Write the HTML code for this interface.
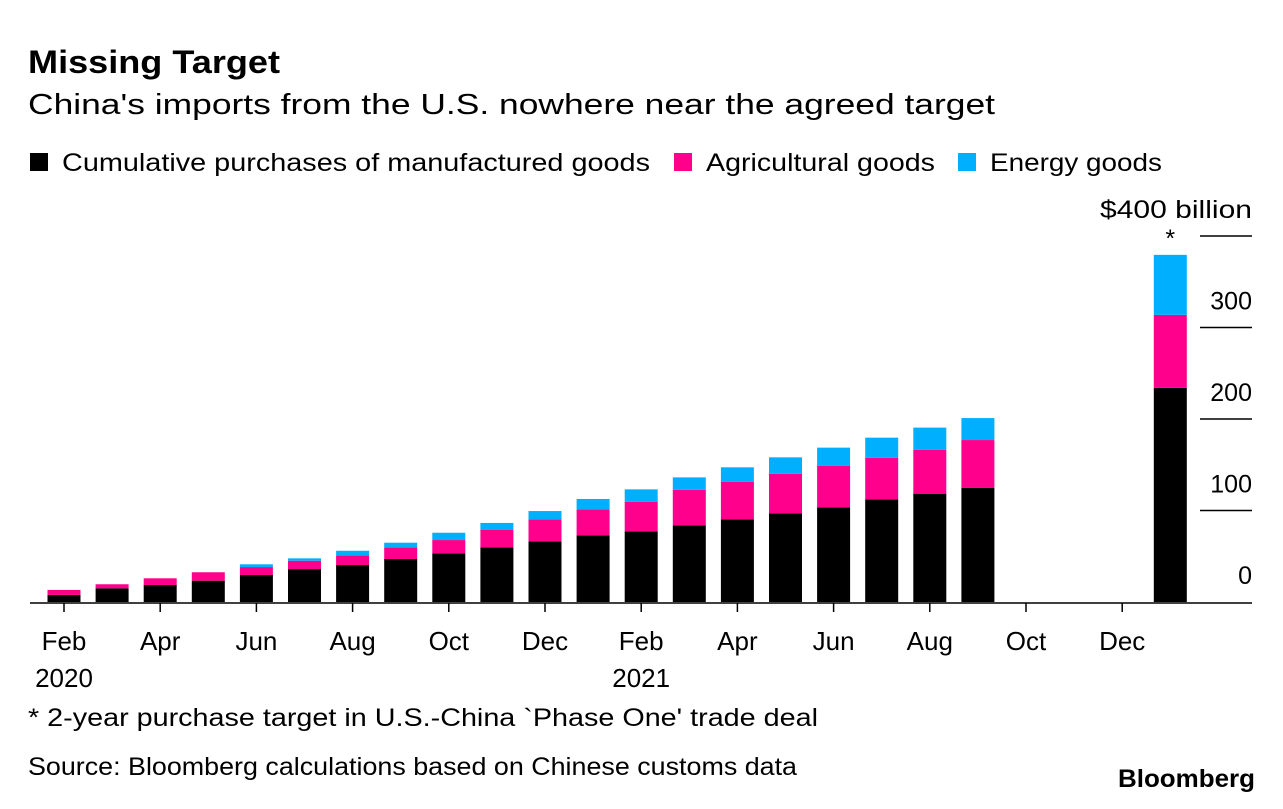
<!DOCTYPE html>
<html><head><meta charset="utf-8">
<style>
body{margin:0;background:#fff;font-family:"Liberation Sans",Arial,sans-serif;}
svg text{font-family:"Liberation Sans",Arial,sans-serif;}
</style></head>
<body>
<svg width="1283" height="804" viewBox="0 0 1283 804" xmlns="http://www.w3.org/2000/svg" id="chart">
<text x="28" y="73" font-size="32" font-weight="bold" fill="#000" textLength="252" lengthAdjust="spacingAndGlyphs">Missing Target</text>
<text x="28" y="114" font-size="29" fill="#000" textLength="967" lengthAdjust="spacingAndGlyphs">China's imports from the U.S. nowhere near the agreed target</text>
<g>
<rect x="30" y="153" width="18" height="18" fill="#000"/>
<text x="62" y="171" font-size="25" textLength="588" lengthAdjust="spacingAndGlyphs">Cumulative purchases of manufactured goods</text>
<rect x="674" y="153" width="18" height="18" fill="#ff008c"/>
<text x="706" y="171" font-size="25" textLength="229" lengthAdjust="spacingAndGlyphs">Agricultural goods</text>
<rect x="958" y="153" width="18" height="18" fill="#00b0ff"/>
<text x="990" y="171" font-size="25" textLength="172" lengthAdjust="spacingAndGlyphs">Energy goods</text>
</g>
<g id="plot"></g>
<text x="28" y="726" font-size="25" textLength="790" lengthAdjust="spacingAndGlyphs">* 2-year purchase target in U.S.-China `Phase One' trade deal</text>
<text x="28" y="775" font-size="25" textLength="769" lengthAdjust="spacingAndGlyphs">Source: Bloomberg calculations based on Chinese customs data</text>
<text x="1255" y="787" font-size="25" font-weight="bold" text-anchor="end" textLength="137" lengthAdjust="spacingAndGlyphs">Bloomberg</text>
</svg>
<script>
const months = ["Feb","Mar","Apr","May","Jun","Jul","Aug","Sep","Oct","Nov","Dec","Jan","Feb","Mar","Apr","May","Jun","Jul","Aug","Sep","Oct","Nov","Dec","Target"];
const manufactured = [7.7,15,18.6,23.3,29.5,36,40.4,47,53.2,59.8,66.3,72.9,77.3,83.8,90.4,96.9,103.5,112.2,118.4,124.9,null,null,null,234];
const agricultural = [5.5,4.4,7.3,9.2,8.7,9.1,10.6,12.8,14.5,18.9,24,28.4,32.3,38.9,41.1,43.3,45.5,45.5,47.8,52.1,null,null,null,79.8];
const energy = [0,0,0,0,3,2.6,5,5,8,7.7,9.1,11.3,13.5,13.5,15.7,17.9,19.7,21.9,24.4,24,null,null,null,65.6];
const yTicks = [0,100,200,300,400];
const xTickLabels = ["Feb","Apr","Jun","Aug","Oct","Dec","Feb","Apr","Jun","Aug","Oct","Dec"];
const yearLabels = [["2020",0],["2021",12]];

const NS="http://www.w3.org/2000/svg";
const g=document.getElementById("plot");
const y0=602, pxPer=0.915;
const y=v=>y0-v*pxPer;
const x=i=>64+i*48.1;
const bw=33;
function mk(tag,attrs){const e=document.createElementNS(NS,tag);for(const k in attrs)e.setAttribute(k,attrs[k]);g.appendChild(e);return e;}
yTicks.forEach((t,i)=>{
  if(t>0){const l=mk("line",{x1:1200,x2:1252,y1:y(t),y2:y(t),stroke:"#000","stroke-width":1.5});
  
  }
  const tx=mk("text",{x:1252,y:y(t)-18,"font-size":25,"text-anchor":"end"});
  tx.textContent=(t===400?"$400 billion":String(t));
  if(t===400){tx.setAttribute("textLength","152");tx.setAttribute("lengthAdjust","spacingAndGlyphs");}
  
  
});
const series=[[manufactured,"#000","manufactured"],[agricultural,"#ff008c","agricultural"],[energy,"#00b0ff","energy"]];
months.forEach((m,i)=>{
  let base=0;
  series.forEach(([arr,col,nm])=>{
    const v=arr[i]; if(v==null||v<=0) return;
    const r=mk("rect",{x:x(i)-bw/2,y:y(base+v),width:bw,height:v*pxPer,fill:col});
    
    
    base+=v;
  });
  if(m==="Target"){
    const s=mk("text",{x:x(i),y:y(base)-8,"font-size":25,"text-anchor":"middle"});
    s.textContent="*";
    
    
  }
});
const bl=mk("line",{x1:30,x2:1252,y1:y0+1,y2:y0+1,stroke:"#000","stroke-width":1.5});


xTickLabels.forEach((lab,k)=>{
  const xi=x(k*2);
  const t=mk("line",{x1:xi,x2:xi,y1:y0+1,y2:y0+10,stroke:"#000","stroke-width":1.5});
  
  
  const tx=mk("text",{x:xi,y:650,"font-size":26,"text-anchor":"middle"});
  tx.textContent=lab;
  
  
});
yearLabels.forEach(([lab,i])=>{
  const tx=mk("text",{x:x(i),y:687,"font-size":26,"text-anchor":"middle"});
  tx.textContent=lab;
  
  
});
</script>
</body></html>
